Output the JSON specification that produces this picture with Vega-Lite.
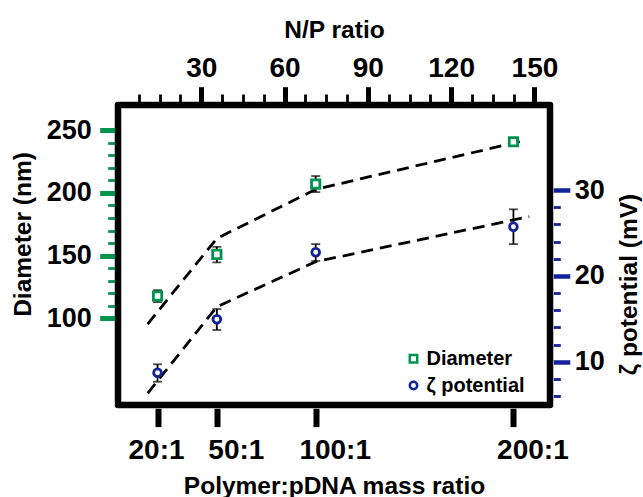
{
  "$schema": "https://vega.github.io/schema/vega-lite/v6.json",
  "width": 432,
  "height": 300,
  "autosize": {"type": "none"},
  "padding": {"left": 118, "top": 105, "right": 93, "bottom": 92},
  "background": "white",
  "config": {
    "font": "Liberation Sans",
    "view": {"stroke": "black", "strokeWidth": 6.5, "strokeJoin": "round"},
    "axis": {
      "domain": false,
      "grid": false,
      "labelFont": "Liberation Sans",
      "labelFontWeight": "bold",
      "labelColor": "black",
      "labelFontSize": 27,
      "titleFont": "Liberation Sans",
      "titleFontWeight": "bold",
      "titleColor": "black",
      "titleFontSize": 24.5,
      "tickCap": "butt",
      "labelOverlap": false,
      "labelFlush": false
    },
    "legend": {
      "labelFont": "Liberation Sans",
      "labelFontWeight": "bold",
      "labelFontSize": 20,
      "labelColor": "black",
      "symbolStrokeWidth": 2.5,
      "symbolSize": 55,
      "symbolFillColor": "white",
      "rowPadding": 6.7,
      "labelOffset": 3,
      "padding": 0
    }
  },
  "datasets": {
    "diam": [
      {"mass": 20, "series": "Diameter", "value": 117.8, "lo": 113.0, "hi": 122.5},
      {"mass": 50, "series": "Diameter", "value": 151.0, "lo": 144.6, "hi": 157.0},
      {"mass": 100, "series": "Diameter", "value": 207.0, "lo": 200.6, "hi": 213.4},
      {"mass": 200, "series": "Diameter", "value": 240.7, "lo": 238.5, "hi": 243.0}
    ],
    "zeta": [
      {"mass": 20, "series": "ζ potential", "value": 8.72, "lo": 7.67, "hi": 9.7},
      {"mass": 50, "series": "ζ potential", "value": 14.94, "lo": 13.7, "hi": 16.14},
      {"mass": 100, "series": "ζ potential", "value": 22.74, "lo": 21.73, "hi": 23.7},
      {"mass": 200, "series": "ζ potential", "value": 25.73, "lo": 23.7, "hi": 27.75}
    ],
    "fitD": [
      {"mass": 15, "value": 95.5},
      {"mass": 50, "value": 163.7},
      {"mass": 100, "value": 202.8},
      {"mass": 205, "value": 241.5}
    ],
    "fitZ": [
      {"mass": 15, "value": 6.32},
      {"mass": 50, "value": 16.4},
      {"mass": 100, "value": 21.65},
      {"mass": 208, "value": 26.9}
    ],
    "np": [
      {"np": 14.3},
      {"np": 35.6},
      {"np": 71.3},
      {"np": 142.6}
    ]
  },
  "layer": [
    {
      "data": {"name": "fitD"},
      "mark": {"type": "line", "color": "black", "strokeWidth": 2.8, "strokeDash": [12, 7]},
      "encoding": {
        "x": {"field": "mass", "type": "quantitative", "scale": {"domain": [0, 218.5], "nice": false, "zero": false}, "axis": null},
        "y": {"field": "value", "type": "quantitative", "scale": {"domain": [31, 270], "nice": false, "zero": false}, "axis": null}
      }
    },
    {
      "data": {"name": "fitZ"},
      "mark": {"type": "line", "color": "black", "strokeWidth": 2.8, "strokeDash": [12, 7]},
      "encoding": {
        "x": {"field": "mass", "type": "quantitative", "scale": {"domain": [0, 218.5], "nice": false, "zero": false}, "axis": null},
        "y": {"field": "value", "type": "quantitative", "scale": {"domain": [4.96, 39.9], "nice": false, "zero": false}, "axis": null}
      }
    },
    {
      "data": {"name": "diam"},
      "mark": {"type": "errorbar", "ticks": true, "size": 9, "thickness": 1.8, "color": "black"},
      "encoding": {
        "x": {"field": "mass", "type": "quantitative", "scale": {"domain": [0, 218.5], "nice": false, "zero": false}, "axis": null},
        "y": {"field": "lo", "type": "quantitative", "scale": {"domain": [31, 270], "nice": false, "zero": false}, "axis": null},
        "y2": {"field": "hi"}
      }
    },
    {
      "data": {"name": "zeta"},
      "mark": {"type": "errorbar", "ticks": true, "size": 9, "thickness": 1.8, "color": "black"},
      "encoding": {
        "x": {"field": "mass", "type": "quantitative", "scale": {"domain": [0, 218.5], "nice": false, "zero": false}, "axis": null},
        "y": {"field": "lo", "type": "quantitative", "scale": {"domain": [4.96, 39.9], "nice": false, "zero": false}, "axis": null},
        "y2": {"field": "hi"}
      }
    },
    {
      "data": {"name": "diam"},
      "mark": {"type": "point", "filled": false, "fill": "white", "strokeWidth": 2.8, "size": 69, "opacity": 1},
      "encoding": {
        "x": {
          "field": "mass", "type": "quantitative",
          "scale": {"domain": [0, 218.5], "nice": false, "zero": false},
          "axis": {
            "orient": "bottom",
            "values": [20, 50, 100, 200],
            "labelExpr": "datum.value + ':1'",
            "labelOffset": {"condition": {"test": "datum.value === 20", "value": -1.5}, "value": 19},
            "tickSize": 18.3,
            "tickWidth": 6,
            "tickColor": "black",
            "offset": 3.3,
            "labelPadding": 10,
            "labelFontSize": 28,
            "title": "Polymer:pDNA mass ratio",
            "titleBaseline": "alphabetic",
            "titleY": 85.5
          }
        },
        "y": {
          "field": "value", "type": "quantitative",
          "scale": {"domain": [31, 270], "nice": false, "zero": false},
          "axis": {
            "orient": "left",
            "values": [100, 110, 120, 130, 140, 150, 160, 170, 180, 190, 200, 210, 220, 230, 240, 250],
            "labelExpr": "datum.value % 50 === 0 ? datum.label : ''",
            "tickColor": "#00934f",
            "tickSize": {"condition": {"test": "datum.value % 50 === 0", "value": 15}, "value": 7},
            "tickWidth": {"condition": {"test": "datum.value % 50 === 0", "value": 5}, "value": 2.8},
            "offset": 3.3,
            "labelPadding": 8.5,
            "title": "Diameter (nm)",
            "titleAngle": 270,
            "titleBaseline": "alphabetic",
            "titleAlign": "center",
            "titleX": -84,
            "titleY": 129
          }
        },
        "stroke": {
          "field": "series", "type": "nominal",
          "scale": {"domain": ["Diameter", "ζ potential"], "range": ["#00934f", "#11229a"]},
          "legend": {"orient": "none", "legendX": 285.5, "legendY": 243.8, "title": null}
        },
        "shape": {
          "field": "series", "type": "nominal",
          "scale": {"domain": ["Diameter", "ζ potential"], "range": ["square", "circle"]},
          "legend": {"orient": "none", "legendX": 285.5, "legendY": 243.8, "title": null}
        }
      }
    },
    {
      "data": {"name": "zeta"},
      "mark": {"type": "point", "filled": false, "fill": "white", "strokeWidth": 2.8, "size": 60, "opacity": 1},
      "encoding": {
        "x": {"field": "mass", "type": "quantitative", "scale": {"domain": [0, 218.5], "nice": false, "zero": false}, "axis": null},
        "y": {
          "field": "value", "type": "quantitative",
          "scale": {"domain": [4.96, 39.9], "nice": false, "zero": false},
          "axis": {
            "orient": "right",
            "values": [6, 8, 10, 12, 14, 16, 18, 20, 22, 24, 26, 28, 30],
            "labelExpr": "datum.value % 10 === 0 ? datum.label : ''",
            "tickColor": "#11229a",
            "tickSize": {"condition": {"test": "datum.value % 10 === 0", "value": 16.5}, "value": 7},
            "tickWidth": {"condition": {"test": "datum.value % 10 === 0", "value": 4.5}, "value": 2.8},
            "offset": 3.3,
            "labelPadding": 4.5,
            "title": "ζ potential (mV)",
            "titleAngle": 270,
            "titleBaseline": "alphabetic",
            "titleAlign": "center",
            "titleX": 83.2,
            "titleY": 179
          }
        },
        "stroke": {"field": "series", "type": "nominal"},
        "shape": {"field": "series", "type": "nominal"}
      }
    },
    {
      "data": {"name": "np"},
      "mark": {"type": "point", "opacity": 0},
      "encoding": {
        "x": {
          "field": "np", "type": "quantitative",
          "scale": {"domain": [0, 155.6], "nice": false, "zero": false},
          "axis": {
            "orient": "top",
            "values": [7.5, 15, 22.5, 30, 37.5, 45, 52.5, 60, 67.5, 75, 82.5, 90, 97.5, 105, 112.5, 120, 127.5, 135, 142.5, 150],
            "labelExpr": "datum.value % 30 === 0 ? datum.label : ''",
            "tickColor": "black",
            "tickSize": {"condition": {"test": "datum.value % 30 === 0", "value": 15}, "value": 7.7},
            "tickWidth": {"condition": {"test": "datum.value % 30 === 0", "value": 5}, "value": 2.8},
            "offset": 3.3,
            "labelBaseline": "alphabetic",
            "labelPadding": 10,
            "labelFontSize": 28,
            "title": "N/P ratio",
            "titleBaseline": "alphabetic",
            "titleY": -64.4
          }
        }
      }
    }
  ],
  "resolve": {"scale": {"x": "independent", "y": "independent"}}
}
